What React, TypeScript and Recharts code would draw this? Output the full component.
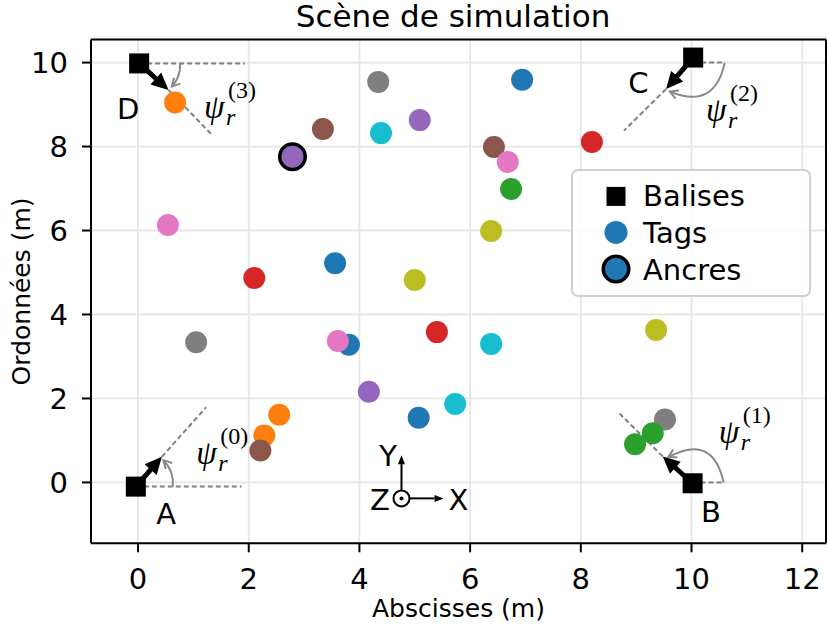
import React from 'react';
import {
  ScatterChart, Scatter, XAxis, YAxis, CartesianGrid, ReferenceLine, ReferenceDot, Legend, Label,
} from 'recharts';

// matplotlib tab10 cycle, tag i gets colour i % 10
const PALETTE = ['#1f77b4', '#ff7f0e', '#2ca02c', '#d62728', '#9467bd', '#8c564b', '#e377c2', '#7f7f7f', '#bcbd22', '#17becf'];
const FONT = "'DejaVu Sans', sans-serif";
const MATH = "'Liberation Serif', 'DejaVu Serif', serif";

const xTicks = [0, 2, 4, 6, 8, 10, 12];
const yTicks = [0, 2, 4, 6, 8, 10];

// tags (m)
const tagX = [6.94, 0.67, 6.74, 8.20, 5.09, 3.34, 0.54, 9.52, 6.38, 4.39, 3.56, 2.55, 9.30, 2.10, 2.79, 6.43, 6.68, 4.34, 5.00, 6.38, 3.81, 2.28, 8.98, 5.40, 4.17, 2.21, 3.61, 1.05, 9.36, 5.73, 5.07];
const tagY = [9.59, 9.05, 6.99, 8.11, 8.63, 8.42, 6.13, 1.50, 5.99, 8.32, 5.22, 1.61, 1.17, 4.87, 7.76, 7.99, 7.63, 9.54, 4.82, 3.30, 3.28, 1.12, 0.91, 3.58, 2.16, 0.76, 3.37, 3.34, 3.63, 1.87, 1.54];
const anchorIdx = [14];

// balises A..D
const beaconNames = ['A', 'B', 'C', 'D'];
const beaconX = [-0.04, 10.02, 10.03, 0.02];
const beaconY = [-0.10, -0.02, 10.12, 9.98];
const headingX = [0.43, 9.48, 9.54, 0.55];
const headingY = [0.61, 0.62, 9.37, 9.35];
const rayEndX = [1.23, 8.70, 8.78, 1.35];
const rayEndY = [1.79, 1.64, 8.38, 8.26];
const refY = [-0.10, 0.0, 10.0, 9.98];
const refEndX = [1.87, 10.58, 10.6, 1.93];
const arcStartX = [0.63, 10.58, 10.6, 0.76];
const arcEndX = [0.46, 9.58, 9.61, 0.61];
const arcEndY = [0.53, 0.60, 9.31, 9.43];
const nameX = [0.51, 10.35, 9.04, -0.18];
const nameY = [-0.74, -0.69, 9.52, 8.91];
const psiX = [1.07, 10.51, 10.28, 1.21];
const psiY = [0.44, 0.94, 8.61, 8.68];

// repere X/Y/Z
const frameOrigin = { x: 4.76, y: -0.38 };
const frameXEnd = 5.52;
const frameYEnd = 0.65;

const ARC_BEND = [0.22, 0.67, -0.6, -0.21];

const tagData = tagX.map((x, i) => ({ x, y: tagY[i], i }));
const anchorData = anchorIdx.map((i) => ({ x: tagX[i], y: tagY[i], i }));
const beaconData = beaconX.map((x, i) => ({ x, y: beaconY[i] }));

const TagDot = (p: any) => <circle cx={p.cx} cy={p.cy} r={11} fill={PALETTE[p.payload.i % 10]} />;
const AnchorDot = (p: any) => (
  <circle cx={p.cx} cy={p.cy} r={12.75} fill={PALETTE[p.payload.i % 10]} stroke="#000" strokeWidth={3.5} />
);
const BeaconSquare = (p: any) => <rect x={p.cx - 10} y={p.cy - 10} width={20} height={20} fill="#000" />;

const unit = (dx: number, dy: number) => {
  const l = Math.hypot(dx, dy) || 1;
  return [dx / l, dy / l];
};

const HeadingArrow = (p: any) => {
  const { x1, y1, x2, y2 } = p;
  const [ux, uy] = unit(x2 - x1, y2 - y1);
  const nx = -uy, ny = ux;
  const hl = 17, hw = 8, sw = 2.5;
  const bx = x2 - ux * hl, by = y2 - uy * hl;
  const pts = [
    [x1 + nx * sw, y1 + ny * sw], [bx + nx * sw, by + ny * sw], [bx + nx * hw, by + ny * hw],
    [x2, y2], [bx - nx * hw, by - ny * hw], [bx - nx * sw, by - ny * sw], [x1 - nx * sw, y1 - ny * sw],
  ];
  return <polygon points={pts.map((q) => q.join(',')).join(' ')} fill="#000" />;
};

const makeArc = (bend: number) => (p: any) => {
  const { x1, y1, x2, y2 } = p;
  const dx = x2 - x1, dy = y2 - y1;
  const cx = (x1 + x2) / 2 - bend * dy;
  const cy = (y1 + y2) / 2 + bend * dx;
  const [ux, uy] = unit(x2 - cx, y2 - cy);
  const hl = 9, a = 0.5;
  const w1 = [x2 - hl * (ux * Math.cos(a) - uy * Math.sin(a)), y2 - hl * (uy * Math.cos(a) + ux * Math.sin(a))];
  const w2 = [x2 - hl * (ux * Math.cos(a) + uy * Math.sin(a)), y2 - hl * (uy * Math.cos(a) - ux * Math.sin(a))];
  return (
    <g fill="none" stroke="#888" strokeWidth={2}>
      <path d={`M${x1},${y1} Q${cx},${cy} ${x2},${y2}`} />
      <polyline points={`${w1[0]},${w1[1]} ${x2},${y2} ${w2[0]},${w2[1]}`} />
    </g>
  );
};

const FrameArrow = (p: any) => {
  const { x1, y1, x2, y2 } = p;
  const [ux, uy] = unit(x2 - x1, y2 - y1);
  const sx = x1 + ux * 8, sy = y1 + uy * 8;
  const hl = 9, hw = 3.5;
  const bx = x2 - ux * hl, by = y2 - uy * hl;
  return (
    <g>
      <line x1={sx} y1={sy} x2={bx} y2={by} stroke="#000" strokeWidth={2} />
      <polygon points={`${x2},${y2} ${bx - uy * hw},${by + ux * hw} ${bx + uy * hw},${by - ux * hw}`} fill="#000" />
    </g>
  );
};

const FrameCircle = (p: any) => (
  <g>
    <circle cx={p.cx} cy={p.cy} r={8} fill="#fff" stroke="#000" strokeWidth={2} />
    <circle cx={p.cx} cy={p.cy} r={2} fill="#000" />
  </g>
);

const textAt = (txt: string) => (p: any) => (
  <text x={p.cx} y={p.cy} dy="0.36em" textAnchor="middle" fontSize={29} fontFamily={FONT} fill="#000">{txt}</text>
);

const psiAt = (k: number) => (p: any) => (
  <g fontFamily={MATH} fill="#000">
    <text x={p.cx - 1} y={p.cy} fontSize={33} fontStyle="italic">ψ</text>
    <text x={p.cx + 21} y={p.cy + 7} fontSize={24} fontStyle="italic">r</text>
    <text x={p.cx + 23} y={p.cy - 20} fontSize={24}>({k})</text>
  </g>
);

const LegendBox = () => (
  <svg width={240} height={128} style={{ display: 'block' }}>
    <rect x={1} y={1} width={238} height={126} rx={6} fill="rgba(255,255,255,0.85)" stroke="#d0d0d0" strokeWidth={2} />
    <rect x={35.5} y={17.9} width={19} height={19} fill="#000" />
    <circle cx={45} cy={63.4} r={11.5} fill={PALETTE[0]} />
    <circle cx={45} cy={100} r={12.75} fill={PALETTE[0]} stroke="#000" strokeWidth={3.5} />
    <g fontFamily={FONT} fontSize={29} fill="#000">
      <text x={72} y={37.4}>Balises</text>
      <text x={72} y={74}>Tags</text>
      <text x={72} y={110.6}>Ancres</text>
    </g>
  </svg>
);

const XTitle = (p: any) => {
  const vb = p.viewBox || { x: 91, y: 543.3, width: 735 };
  return (
    <text x={vb.x + vb.width / 2} y={vb.y + 74} textAnchor="middle" fontSize={25} fontFamily={FONT} fill="#000">Abscisses (m)</text>
  );
};

const YTitle = (p: any) => {
  const vb = p.viewBox || { x: 0, y: 39.5, width: 91, height: 503.8 };
  const cx = vb.x + 30, cy = vb.y + vb.height / 2;
  return (
    <text x={cx} y={cy} transform={`rotate(-90 ${cx} ${cy})`} textAnchor="middle" fontSize={25} fontFamily={FONT} fill="#000">Ordonnées (m)</text>
  );
};

const axisStyle = {
  tick: { fill: '#000', fontSize: 29, fontFamily: FONT },
  tickLine: { stroke: '#000', strokeWidth: 2 },
  axisLine: { stroke: '#000', strokeWidth: 2 },
  tickSize: 9,
};

export default function App() {
  return (
    <div style={{ position: 'relative', width: 827, height: 626, background: '#fff' }}>
      <style>{'body{margin:0}'}</style>
      <ScatterChart width={827} height={626} margin={{ top: 39.5, right: 1, bottom: 0, left: 0 }}>
        <CartesianGrid stroke="#e6e6e6" strokeWidth={1.8} />
        <XAxis type="number" dataKey="x" domain={[-0.85, 12.43]} ticks={xTicks} allowDataOverflow height={82.7} tickMargin={16} {...axisStyle}>
          <Label content={XTitle} />
        </XAxis>
        <YAxis type="number" dataKey="y" domain={[-1.45, 10.55]} ticks={yTicks} allowDataOverflow width={91} tickMargin={14} {...axisStyle}>
          <Label content={YTitle} />
        </YAxis>
        <ReferenceLine y={10.55} stroke="#000" strokeWidth={2} />
        <ReferenceLine x={12.43} stroke="#000" strokeWidth={2} />

        <Scatter name="Tags" data={tagData} shape={TagDot} isAnimationActive={false} />
        <Scatter name="Ancres" data={anchorData} shape={AnchorDot} isAnimationActive={false} />

        {beaconNames.map((_, i) => (
          <ReferenceLine key={`ref${i}`} ifOverflow="visible" stroke="#808080" strokeWidth={2} strokeDasharray="5 3"
            segment={[{ x: beaconX[i], y: refY[i] }, { x: refEndX[i], y: refY[i] }]} />
        ))}
        {beaconNames.map((_, i) => (
          <ReferenceLine key={`ray${i}`} ifOverflow="visible" stroke="#808080" strokeWidth={2} strokeDasharray="5 3"
            segment={[{ x: headingX[i], y: headingY[i] }, { x: rayEndX[i], y: rayEndY[i] }]} />
        ))}
        {beaconNames.map((_, i) => (
          <ReferenceLine key={`arc${i}`} ifOverflow="visible" shape={makeArc(ARC_BEND[i])}
            segment={[{ x: arcStartX[i], y: refY[i] }, { x: arcEndX[i], y: arcEndY[i] }]} />
        ))}

        <Scatter name="Balises" data={beaconData} shape={BeaconSquare} isAnimationActive={false} />

        {beaconNames.map((_, i) => (
          <ReferenceLine key={`hd${i}`} ifOverflow="visible" shape={HeadingArrow}
            segment={[{ x: beaconX[i], y: beaconY[i] }, { x: headingX[i], y: headingY[i] }]} />
        ))}
        {beaconNames.map((n, i) => (
          <ReferenceDot key={`nm${i}`} x={nameX[i]} y={nameY[i]} ifOverflow="visible" shape={textAt(n)} />
        ))}
        {beaconNames.map((_, i) => (
          <ReferenceDot key={`psi${i}`} x={psiX[i]} y={psiY[i]} ifOverflow="visible" shape={psiAt(i)} />
        ))}

        <ReferenceLine ifOverflow="visible" shape={FrameArrow}
          segment={[frameOrigin, { x: frameOrigin.x, y: frameYEnd }]} />
        <ReferenceLine ifOverflow="visible" shape={FrameArrow}
          segment={[frameOrigin, { x: frameXEnd, y: frameOrigin.y }]} />
        <ReferenceDot x={frameOrigin.x} y={frameOrigin.y} ifOverflow="visible" shape={FrameCircle} />
        <ReferenceDot x={4.52} y={0.65} ifOverflow="visible" shape={textAt('Y')} />
        <ReferenceDot x={4.37} y={-0.42} ifOverflow="visible" shape={textAt('Z')} />
        <ReferenceDot x={5.79} y={-0.42} ifOverflow="visible" shape={textAt('X')} />

        <Legend layout="vertical" align="center" verticalAlign="middle" content={LegendBox}
          wrapperStyle={{ left: 571, top: 169, width: 240, height: 128 }} />
      </ScatterChart>
      <svg width={827} height={40} style={{ position: 'absolute', left: 0, top: 0, pointerEvents: 'none' }}>
        <text x={453} y={27} textAnchor="middle" fontSize={31} fontFamily={FONT} fill="#000">Scène de simulation</text>
      </svg>
    </div>
  );
}
